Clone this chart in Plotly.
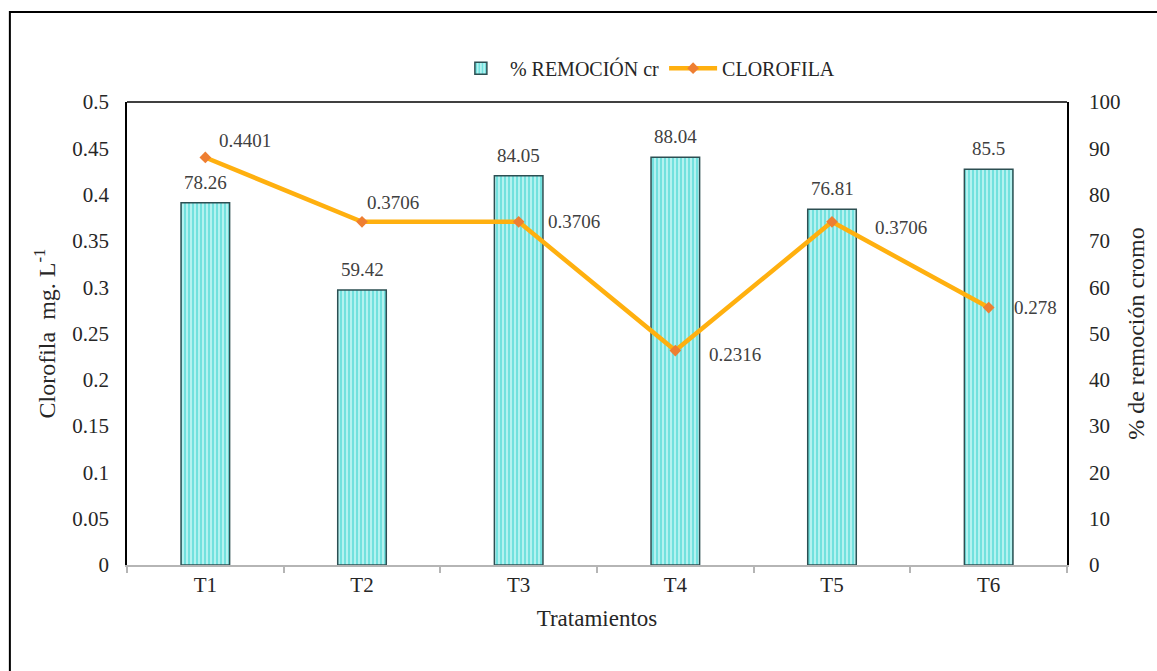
import plotly.graph_objects as go

# Treatments and measured values
tratamientos = ["T1", "T2", "T3", "T4", "T5", "T6"]
remocion_cr = [78.26, 59.42, 84.05, 88.04, 76.81, 85.5]
clorofila = [0.4401, 0.3706, 0.3706, 0.2316, 0.3706, 0.278]

# Label offsets (px) for the chlorophyll values
clor_xshift = [12, 3, 27, 32, 41, 23]
clor_yshift = [17, 19, 0, -4, -6, 0]

serif = "Times New Roman, Liberation Serif, serif"
txt = "#262626"

fig = go.Figure()

# Bars on the base (right-side) axis so the line overlays them
fig.add_trace(go.Bar(
    x=tratamientos, y=remocion_cr, yaxis="y", name="% REMOCIÓN cr",
    width=0.31,
    marker=dict(
        color="#b4f2f0",
        line=dict(color="#2c4f52", width=1.5),
        pattern=dict(shape="|", fgcolor="#2fd0cc", bgcolor="#b4f2f0",
                     size=4, solidity=0.5, fillmode="overlay"),
    ),
))

fig.add_trace(go.Scatter(
    x=tratamientos, y=clorofila, yaxis="y2", name="CLOROFILA",
    mode="lines+markers",
    line=dict(color="#FFB00F", width=4.5),
    marker=dict(symbol="diamond", size=9, color="#EE7E32"),
))

annotations = []
for t, v in zip(tratamientos, remocion_cr):
    annotations.append(dict(
        x=t, y=v, xref="x", yref="y", text=f"{v:g}", showarrow=False,
        yanchor="bottom", yshift=8,
        font=dict(family=serif, size=19, color="#404040"),
    ))
for t, v, dx, dy in zip(tratamientos, clorofila, clor_xshift, clor_yshift):
    annotations.append(dict(
        x=t, y=v, xref="x", yref="y2", text=f"{v:g}", showarrow=False,
        xanchor="left", yanchor="middle", xshift=dx, yshift=dy,
        font=dict(family=serif, size=19, color="#404040"),
    ))

fig.update_layout(
    width=1157, height=671,
    margin=dict(l=127, r=83, t=102, b=106),
    paper_bgcolor="white", plot_bgcolor="white",
    font=dict(family=serif, color=txt, size=21),
    showlegend=True,
    legend=dict(orientation="h", x=0.552, xanchor="center", y=1.073,
                yanchor="middle", font=dict(family=serif, size=20, color=txt),
                bgcolor="rgba(0,0,0,0)", itemwidth=48, traceorder="normal"),
    xaxis=dict(
        showline=True, linecolor="#b5b5b5", linewidth=2,
        ticks="outside", tickson="boundaries", ticklen=6,
        tickcolor="#b5b5b5", tickwidth=2,
        tickfont=dict(family=serif, size=21, color=txt),
        title=dict(text="Tratamientos", font=dict(family=serif, size=23, color=txt),
                   standoff=14),
        showgrid=False,
    ),
    yaxis=dict(
        range=[0, 100], dtick=10, side="right",
        showgrid=False, showline=True, linecolor="black", linewidth=1.5,
        ticks="", tickfont=dict(family=serif, size=21, color=txt),
        ticklabelstandoff=16,
        title=dict(text="% de remoción cromo",
                   font=dict(family=serif, size=24, color=txt), standoff=8),
        zeroline=False,
    ),
    yaxis2=dict(
        range=[0, 0.5], dtick=0.05, overlaying="y", side="left",
        showgrid=False, showline=True, linecolor="black", linewidth=1.5,
        ticks="", tickfont=dict(family=serif, size=21, color=txt),
        ticklabelstandoff=12,
        title=dict(text="Clorofila  mg. L<sup>-1</sup>",
                   font=dict(family=serif, size=24, color=txt), standoff=10),
        zeroline=False,
    ),
    annotations=annotations,
)

# Top frame line of the plot area and outer border of the figure
fig.add_shape(type="line", xref="paper", yref="paper", x0=0, x1=1, y0=1, y1=1,
              line=dict(color="black", width=1.5))
fig.add_shape(type="rect", xref="paper", yref="paper",
              x0=-0.1246, y0=-0.4, x1=1.2, y1=1.1944,
              line=dict(color="black", width=2), layer="above")

fig.write_html("out.html")
